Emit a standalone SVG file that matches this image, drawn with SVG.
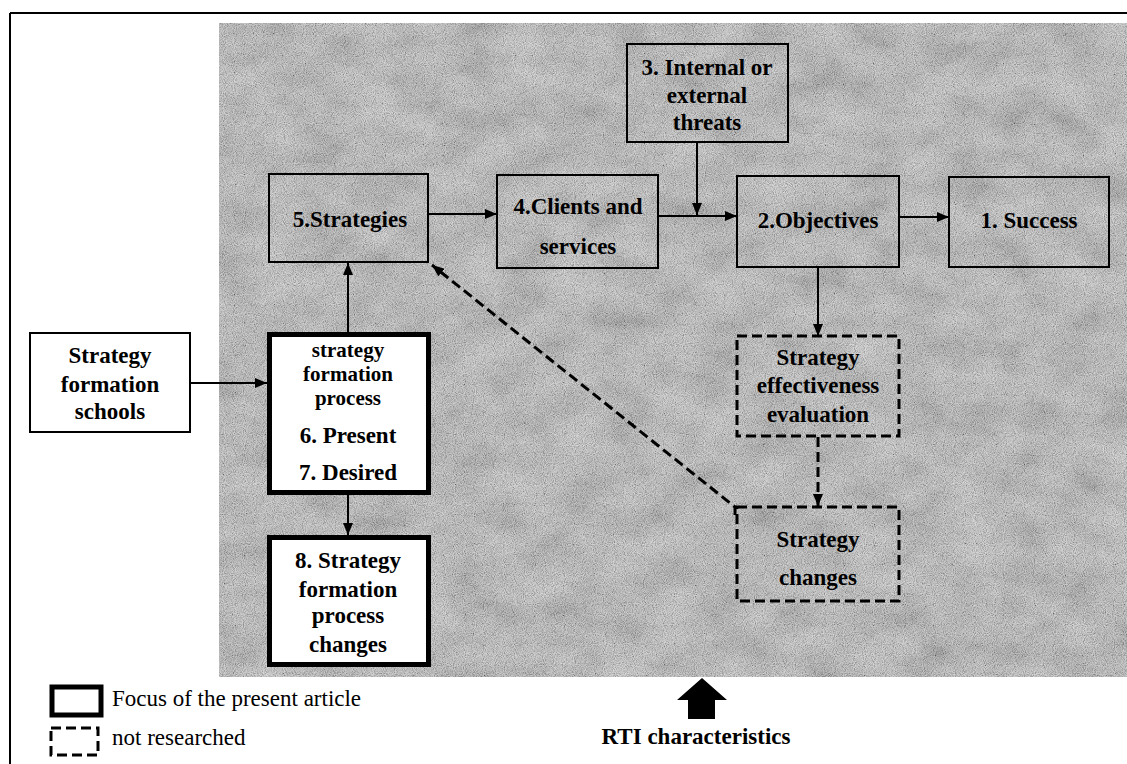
<svg xmlns="http://www.w3.org/2000/svg" width="1127" height="764" viewBox="0 0 1127 764">
<style>
.box{fill:none;stroke:#000;stroke-width:2}
.wbox{fill:#fff;stroke:#000;stroke-width:2}
.thick{fill:#fff;stroke:#000;stroke-width:5}
.dbox{fill:none;stroke:#000;stroke-width:3;stroke-dasharray:10 5}
.lbl{font-family:'Liberation Serif','Times New Roman',serif;font-weight:bold;font-size:23px;text-anchor:middle;fill:#000}
.sm{font-size:21px}
.leg{font-family:'Liberation Serif','Times New Roman',serif;font-size:23px;fill:#000}
.con{fill:none;stroke:#000;stroke-width:2}
.dcon{fill:none;stroke:#000;stroke-width:3;stroke-dasharray:10 5}
</style>
<defs>
<marker id="ah" viewBox="0 0 12 10" refX="12" refY="5" markerWidth="12" markerHeight="10" markerUnits="userSpaceOnUse" orient="auto">
<path d="M0,0 L12,5 L0,10 z" fill="#000"/>
</marker>
<filter id="blotch" x="0" y="0" width="100%" height="100%">
<feTurbulence type="fractalNoise" baseFrequency="0.02 0.03" numOctaves="4" seed="7"/>
<feColorMatrix type="matrix" values="1 0 0 0 0 1 0 0 0 0 1 0 0 0 0 0 0 0 0 1"/>
</filter>
<filter id="speck" x="0" y="0" width="100%" height="100%">
<feTurbulence type="fractalNoise" baseFrequency="1.1" numOctaves="1" seed="3"/>
<feColorMatrix type="matrix" values="1.6 0 0 0 -0.3 1.6 0 0 0 -0.3 1.6 0 0 0 -0.3 0 0 0 0 1"/>
</filter>
</defs>
<rect x="0" y="0" width="1127" height="764" fill="#fff"/>
<g id="frame">
<line x1="10" y1="13" x2="1127" y2="13" stroke="#000" stroke-width="2"/>
<line x1="10" y1="13" x2="10" y2="764" stroke="#000" stroke-width="2"/>
</g>
<g id="background">
<rect x="219" y="23" width="908" height="654" fill="#b0b0b0"/>
<rect x="219" y="23" width="908" height="654" filter="url(#blotch)" opacity="0.45"/>
<rect x="219" y="23" width="908" height="654" filter="url(#speck)" opacity="0.45"/>
</g>
<g id="connectors">
<line class="con" x1="428" y1="214" x2="497" y2="214" marker-end="url(#ah)"/>
<line class="con" x1="658" y1="216" x2="737" y2="216" marker-end="url(#ah)"/>
<line class="con" x1="697" y1="142" x2="697" y2="215" marker-end="url(#ah)"/>
<line class="con" x1="899" y1="217" x2="949" y2="217" marker-end="url(#ah)"/>
<line class="con" x1="818" y1="267" x2="818" y2="336" marker-end="url(#ah)"/>
<line class="dcon" x1="818" y1="437" x2="818" y2="506" marker-end="url(#ah)"/>
<path class="dcon" d="M735,515 L735,507 L432,265" marker-end="url(#ah)"/>
<line class="con" x1="190" y1="383" x2="267" y2="383" marker-end="url(#ah)"/>
<line class="con" x1="348" y1="332" x2="348" y2="263" marker-end="url(#ah)"/>
<line class="con" x1="348" y1="487" x2="348" y2="535" marker-end="url(#ah)"/>
</g>
<g id="n5">
<rect class="box" x="269" y="174" width="159" height="88"/>
<text class="lbl" x="350" y="227">5.Strategies</text>
</g>
<g id="n4">
<rect class="box" x="497" y="175" width="161" height="93"/>
<text class="lbl" x="578" y="214">4.Clients and</text>
<text class="lbl" x="578" y="254">services</text>
</g>
<g id="n3">
<rect class="box" x="627" y="44" width="161" height="98"/>
<text class="lbl" x="707" y="75">3. Internal or</text>
<text class="lbl" x="707" y="103">external</text>
<text class="lbl" x="707" y="130">threats</text>
</g>
<g id="n2">
<rect class="box" x="737" y="176" width="162" height="91"/>
<text class="lbl" x="818" y="228">2.Objectives</text>
</g>
<g id="n1">
<rect class="box" x="949" y="177" width="160" height="90"/>
<text class="lbl" x="1029" y="228">1. Success</text>
</g>
<g id="eval">
<rect class="dbox" x="737" y="336" width="162" height="100"/>
<text class="lbl" x="818" y="365">Strategy</text>
<text class="lbl" x="818" y="393">effectiveness</text>
<text class="lbl" x="818" y="422">evaluation</text>
</g>
<g id="changes">
<rect class="dbox" x="737" y="507" width="162" height="94"/>
<text class="lbl" x="818" y="547">Strategy</text>
<text class="lbl" x="818" y="585">changes</text>
</g>
<g id="schools">
<rect class="wbox" x="30" y="333" width="160" height="99"/>
<text class="lbl" x="110" y="363">Strategy</text>
<text class="lbl" x="110" y="392">formation</text>
<text class="lbl" x="110" y="419">schools</text>
</g>
<g id="process">
<rect class="thick" x="269.5" y="334.5" width="159" height="158"/>
<text class="lbl sm" x="348" y="357">strategy</text>
<text class="lbl sm" x="348" y="381">formation</text>
<text class="lbl sm" x="348" y="405">process</text>
<text class="lbl" x="348" y="443">6. Present</text>
<text class="lbl" x="348" y="480">7. Desired</text>
</g>
<g id="n8">
<rect class="thick" x="269.5" y="537.5" width="159" height="127"/>
<text class="lbl" x="348" y="568">8. Strategy</text>
<text class="lbl" x="348" y="597">formation</text>
<text class="lbl" x="348" y="623">process</text>
<text class="lbl" x="348" y="652">changes</text>
</g>
<g id="rti">
<path d="M702,678 L727,700 L715,700 L715,719 L688,719 L688,700 L677,700 z" fill="#000"/>
<text class="lbl" x="696" y="744" font-size="22">RTI characteristics</text>
</g>
<g id="legend">
<rect x="52" y="687" width="49" height="28" fill="#fff" stroke="#000" stroke-width="5"/>
<text class="leg" x="112" y="706">Focus of the present article</text>
<rect class="dbox" x="51" y="728" width="47" height="27"/>
<text class="leg" x="112" y="745">not researched</text>
</g>
</svg>
